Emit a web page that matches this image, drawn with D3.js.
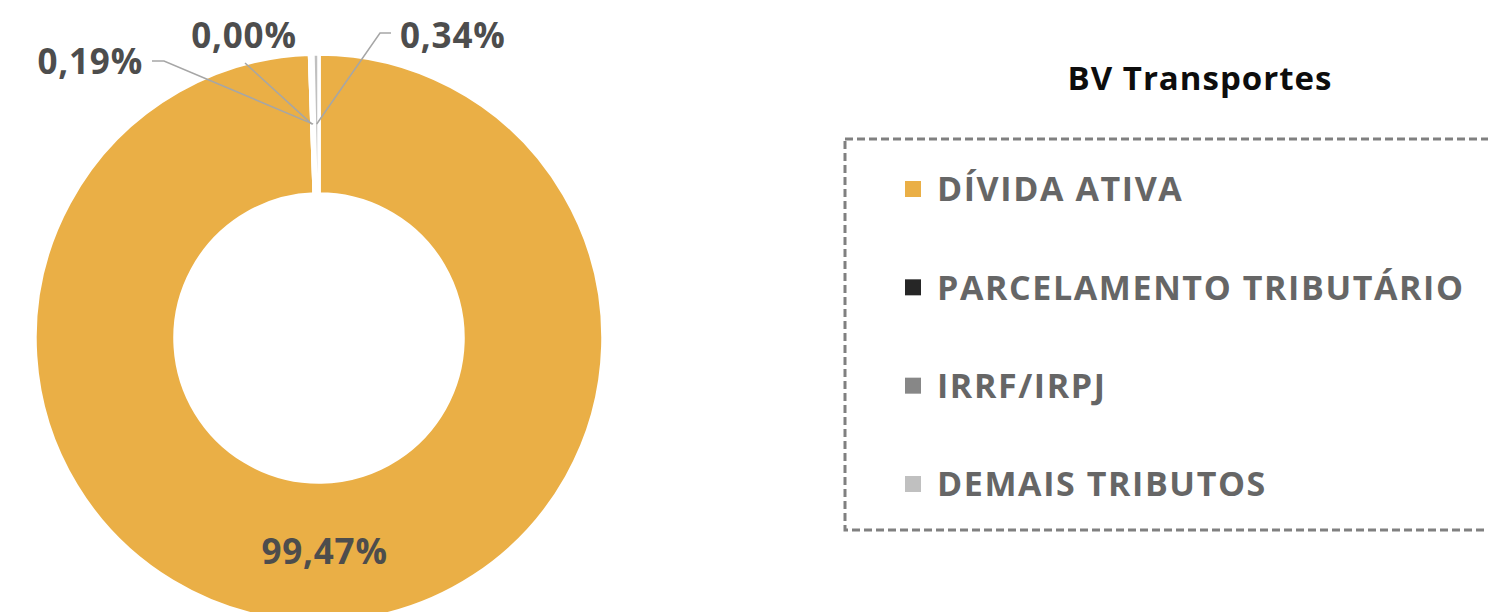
<!DOCTYPE html>
<html>
<head>
<meta charset="utf-8">
<script src="https://cdn.jsdelivr.net/npm/d3@7"></script>
<style>
  html, body { margin: 0; padding: 0; background: #fff; }
  svg { display: block; font-family: "Open Sans", sans-serif; }
</style>
</head>
<body>
<svg></svg>
<script>
const width = 1488;
const height = 612;

const title = "BV Transportes";
const categories = ["DÍVIDA ATIVA", "PARCELAMENTO TRIBUTÁRIO", "IRRF/IRPJ", "DEMAIS TRIBUTOS"];
const values = [99.47, 0.00, 0.19, 0.34];
const labels = ["99,47%", "0,00%", "0,19%", "0,34%"];
const colors = ["#EAAF46", "#262626", "#878787", "#C0C0C0"];

const svg = d3.select("svg")
    .attr("width", width)
    .attr("height", height);

const cx = 319, cy = 338;
const outerR = 284, innerR = 144;

const pie = d3.pie().sort(null).value(d => d);
const arcs = pie(values);

const arc = d3.arc().innerRadius(innerR).outerRadius(outerR);
const midArc = d3.arc().innerRadius((innerR + outerR) / 2).outerRadius((innerR + outerR) / 2);

const chart = svg.append("g")
    .attr("transform", `translate(${cx},${cy})`);

chart.selectAll("path.slice")
    .data(arcs)
    .enter().append("path")
    .attr("class", "slice")
    .attr("d", arc)
    .attr("fill", (d, i) => colors[i])
    .attr("stroke", "#fff")
    .attr("stroke-width", 3.5);

// label placement for the tiny slices (relative to chart centre), Excel style
const labelPos = [
    null,
    { x: -75, y: -290, anchor: "middle", line: [[-74, -275]] },
    { x: -176, y: -264, anchor: "end", line: [[-155, -277], [-167, -277]] },
    { x: 81, y: -290, anchor: "start", line: [[61, -305], [72, -305]] }
];

const labelFont = sel => sel
    .attr("font-size", 35)
    .attr("font-weight", 700)
    .attr("letter-spacing", 0.8)
    .attr("fill", "#4d4d4d");

arcs.forEach((d, i) => {
    const c = midArc.centroid(d);
    if (i === 0) {
        chart.append("text")
            .attr("x", c[0] + 2)
            .attr("y", c[1])
            .attr("dy", "0.35em")
            .attr("text-anchor", "middle")
            .call(labelFont)
            .text(labels[i]);
        return;
    }
    const p = labelPos[i];
    chart.append("path")
        .attr("d", d3.line()([c, ...p.line]))
        .attr("fill", "none")
        .attr("stroke", "#a6a6a6")
        .attr("stroke-width", 1.5);
    chart.append("text")
        .attr("x", p.x)
        .attr("y", p.y)
        .attr("text-anchor", p.anchor)
        .call(labelFont)
        .text(labels[i]);
});

// title
svg.append("text")
    .attr("x", 1200)
    .attr("y", 90)
    .attr("text-anchor", "middle")
    .attr("font-size", 33)
    .attr("font-weight", 700)
    .attr("letter-spacing", 1)
    .attr("fill", "#0d0d0d")
    .text(title);

// legend
svg.append("rect")
    .attr("x", 845)
    .attr("y", 139)
    .attr("width", 700)
    .attr("height", 391)
    .attr("fill", "none")
    .attr("stroke", "#808080")
    .attr("stroke-width", 3)
    .attr("stroke-dasharray", "8,4");

const legendY = d3.scalePoint()
    .domain(categories)
    .range([189, 484]);

const legendItem = svg.selectAll(".legend-item")
    .data(categories)
    .enter().append("g")
    .attr("class", "legend-item")
    .attr("transform", d => `translate(905, ${legendY(d)})`);

legendItem.append("rect")
    .attr("x", 0)
    .attr("y", -8)
    .attr("width", 16)
    .attr("height", 16)
    .attr("fill", (d, i) => colors[i]);

legendItem.append("text")
    .attr("x", 32)
    .attr("y", 0)
    .attr("dy", "0.36em")
    .attr("font-size", 34)
    .attr("font-weight", 700)
    .attr("letter-spacing", 1.6)
    .attr("fill", "#666")
    .text(d => d);
</script>
</body>
</html>
